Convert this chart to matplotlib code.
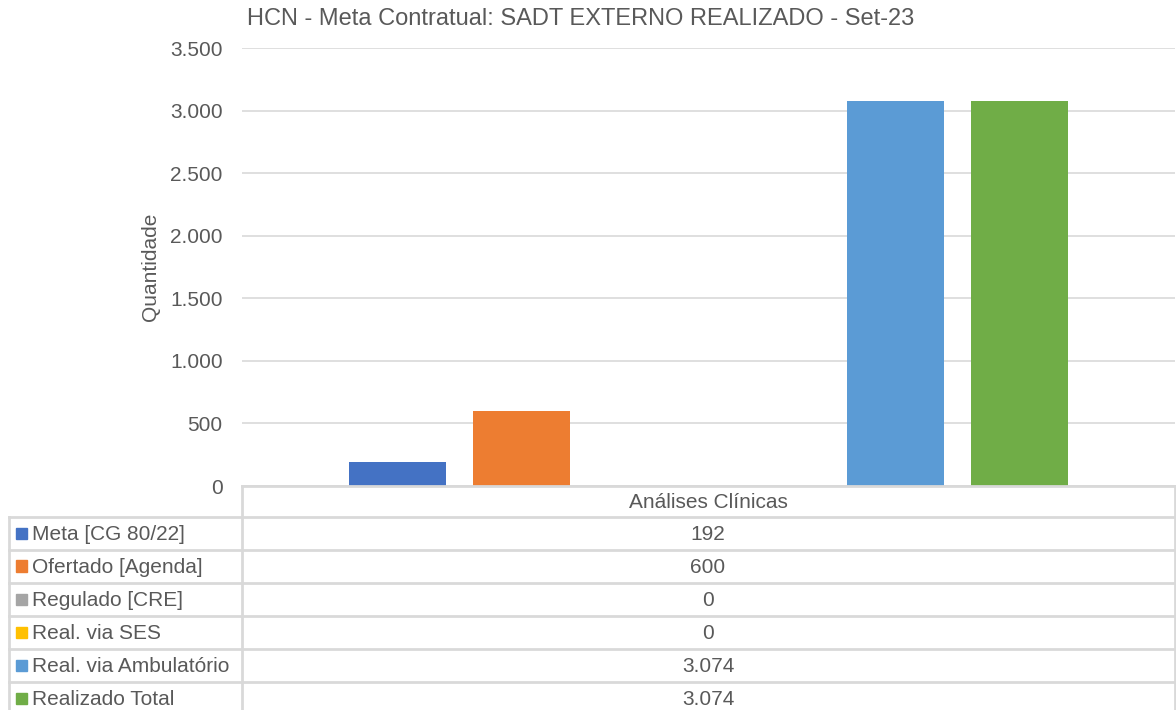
import matplotlib
matplotlib.use("Agg")
import matplotlib.pyplot as plt
from matplotlib.lines import Line2D
from matplotlib.patches import Rectangle
from matplotlib.ticker import FuncFormatter, MultipleLocator

plt.rcParams["font.family"] = ["Liberation Sans", "DejaVu Sans"]

category = "Análises Clínicas"
series = ["Meta [CG 80/22]", "Ofertado [Agenda]", "Regulado [CRE]",
          "Real. via SES", "Real. via Ambulatório", "Realizado Total"]
values = [192, 600, 0, 0, 3074, 3074]
colors = ["#4472C4", "#ED7D31", "#A5A5A5", "#FFC000", "#5B9BD5", "#70AD47"]

W, H = 1176, 710
txt = "#595959"
grid = "#D9D9D9"

def fx(px):
    return px / W

def fy(py):
    return 1 - py / H

def fmt(v):
    return f"{v:,.0f}".replace(",", ".")

fig = plt.figure(figsize=(W / 100, H / 100), dpi=100)
ax = fig.add_axes([fx(242), fy(486), fx(1175) - fx(242), fy(48) - fy(486)])

step = 0.1333
bw = 0.104
for i, (v, c) in enumerate(zip(values, colors)):
    ax.bar((i - 2.5) * step, v, width=bw, color=c, zorder=3)

ax.set_xlim(-0.5, 0.5)
ax.set_ylim(0, 3500)
ax.yaxis.set_major_locator(MultipleLocator(500))
ax.yaxis.set_major_formatter(FuncFormatter(lambda v, p: fmt(v)))
ax.set_xticks([])
ax.tick_params(axis="y", length=0, labelsize=15, labelcolor=txt, pad=14)
ax.grid(axis="y", color=grid, linewidth=1.2, zorder=0)
for s in ax.spines.values():
    s.set_visible(False)
ax.set_ylabel("Quantidade", fontsize=15, color=txt, labelpad=7)

fig.text(fx(581), fy(19), "HCN - Meta Contratual: SADT EXTERNO REALIZADO - Set-23",
         ha="center", va="center", fontsize=17, color=txt)

# data table
lw = 2
def hline(y, x0, x1):
    fig.add_artist(Line2D([fx(x0), fx(x1)], [fy(y), fy(y)], color=grid, lw=lw))

def vline(x, y0, y1):
    fig.add_artist(Line2D([fx(x), fx(x)], [fy(y0), fy(y1)], color=grid, lw=lw))

hline(486, 242, 1175)
rows = [517, 550, 583, 616, 649, 682]
for y in rows:
    hline(y, 9, 1175)
vline(242, 486, 710)
vline(1175, 486, 710)
vline(9, 517, 710)

fig.text(fx(708), fy(503), category, ha="center", va="center", fontsize=15, color=txt)
for i, (name, v, c) in enumerate(zip(series, values, colors)):
    yc = rows[i] + 16
    fig.add_artist(Rectangle((fx(16), fy(yc + 5.5)), fx(11), fy(yc - 5.5) - fy(yc + 5.5),
                             color=c, transform=fig.transFigure))
    fig.text(fx(32), fy(yc + 1.5), name, ha="left", va="center", fontsize=15, color=txt)
    fig.text(fx(708), fy(yc + 1.5), fmt(v), ha="center", va="center", fontsize=15, color=txt)

fig.savefig("out.png", dpi=100, facecolor="white")
